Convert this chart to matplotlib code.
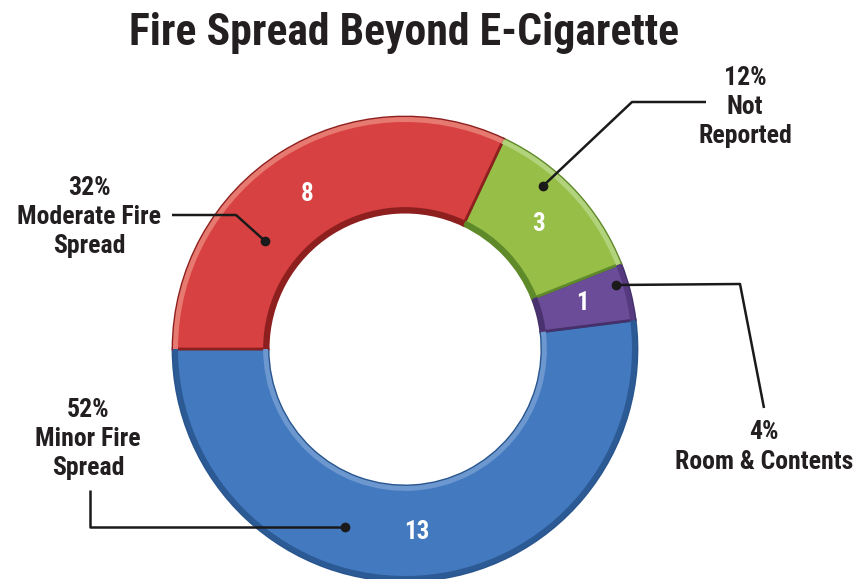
import matplotlib.pyplot as plt

# ---- data ----
categories = ['Minor Fire Spread', 'Room & Contents', 'Not Reported', 'Moderate Fire Spread']
counts = [13, 1, 3, 8]
pct_labels = ['52%\nMinor Fire\nSpread', '4%\nRoom & Contents', '12%\nNot\nReported', '32%\nModerate Fire\nSpread']
colors = ['#4279bf', '#6b4c98', '#97bf48', '#d84141']
edges = ['#2a568f', '#45306a', '#5f8a2a', '#8e1f1f']
outer_rim = ['#2c5a94', '#553a80', '#b3d27c', '#e77a70']
inner_rim = ['#6c98cf', '#4a3270', '#5f8a2a', '#8e1f1f']

plt.rcParams['font.family'] = ['Roboto Condensed', 'DejaVu Sans']
txt_color = '#231f20'

W, H = 861, 579
fig = plt.figure(figsize=(W / 100, H / 100), dpi=100)
ax = fig.add_axes([0, 0, 1, 1])

cx, cy, R = 405, H - 349, 232
r_in = R * 0.59
total = sum(counts)
wedges, _, autotexts = ax.pie(
    counts, colors=colors, startangle=180, center=(cx, cy), radius=R,
    autopct=lambda p: f'{round(p * total / 100)}', pctdistance=0.79,
    wedgeprops=dict(width=R - r_in, linewidth=2),
    textprops=dict(color='white', fontsize=18, fontweight='bold'))
for w, e in zip(wedges, edges):
    w.set_edgecolor(e)

# bevel rims
ax.pie(counts, colors=outer_rim, startangle=180, center=(cx, cy), radius=R,
       wedgeprops=dict(width=5, linewidth=0))
ax.pie(counts, colors=inner_rim, startangle=180, center=(cx, cy), radius=r_in + 5,
       wedgeprops=dict(width=5, linewidth=0))
for t in autotexts:
    t.set_zorder(5)

ax.set_xlim(0, W)
ax.set_ylim(0, H)
ax.set_aspect('equal')
ax.axis('off')

fig.text(404 / W, 1 - 33 / H, 'Fire Spread Beyond E-Cigarette', ha='center', va='center',
         fontsize=31.5, fontweight='bold', color=txt_color)

# leader lines (pixel coords from top), text anchors
leaders = [
    [(345, 527), (90, 527), (90, 490)],
    [(616, 285), (740, 284), (764, 408)],
    [(543, 186), (632, 102), (706, 102)],
    [(265, 241), (236, 215), (172, 215)],
]
label_pos = [(88, 439), (764, 447), (745, 107), (89, 217)]

for pts, lab, (lx, ly) in zip(leaders, pct_labels, label_pos):
    xs = [p[0] for p in pts]
    ys = [H - p[1] for p in pts]
    ax.plot(xs, ys, color='#1a1a1a', lw=1.8, solid_capstyle='butt', zorder=6)
    ax.plot(xs[0], ys[0], 'o', color='#1a1a1a', ms=6, zorder=6)
    ax.text(lx, H - ly, lab, ha='center', va='center', fontsize=18.5,
            fontweight='bold', color=txt_color, linespacing=1.28)

fig.savefig('out.png', dpi=100)
